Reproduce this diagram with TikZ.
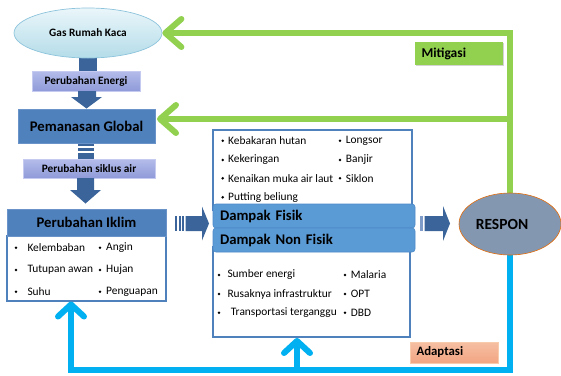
\documentclass[tikz,border=0pt]{standalone}
\usepackage{fontspec}
\setmainfont{Carlito}
\usetikzlibrary{arrows.meta,shapes.geometric,calc,shadows}
\definecolor{darkA}{HTML}{3B659A}
\definecolor{darkB}{HTML}{7F9CC8}
\definecolor{lavTop}{HTML}{B4BCEA}
\definecolor{lavBot}{HTML}{8F9BD9}
\definecolor{lavLine}{HTML}{C5CBF0}
\definecolor{steel}{HTML}{4F81BD}
\definecolor{steelLine}{HTML}{6A93C9}
\definecolor{dampakC}{HTML}{5B9BD5}
\definecolor{dampakLine}{HTML}{4A89C8}
\definecolor{boxLine}{HTML}{4F81BD}
\definecolor{greenC}{HTML}{92D050}
\definecolor{cyanC}{HTML}{00B0F0}
\definecolor{responC}{HTML}{8497B0}
\definecolor{responLine}{HTML}{E46C0A}
\definecolor{adapTop}{HTML}{F6BFA3}
\definecolor{adapBot}{HTML}{F2A582}
\definecolor{adapLine}{HTML}{F8CBAD}
\definecolor{ellTop}{HTML}{EAF6FA}
\definecolor{ellBot}{HTML}{B4DCE9}
\definecolor{ellLine}{HTML}{8DC4DC}
\begin{document}
\begin{tikzpicture}[x=1pt,y=-1pt,
  box/.style={rectangle, inner sep=0pt, align=center},
  lav/.style={box, top color=lavTop, bottom color=lavBot, draw=lavLine, line width=0.6pt,
    font=\fontsize{11.3}{13}\selectfont\bfseries},
  steelbox/.style={box, fill=steel, draw=steelLine, line width=0.6pt,
    font=\fontsize{14.7}{17}\selectfont\bfseries},
  listbox/.style={rectangle, draw=boxLine, line width=1.3pt, fill=white, inner sep=0pt},
  bar/.style={rectangle, rounded corners=3pt, fill=dampakC, draw=dampakLine, line width=0.6pt,
    font=\fontsize{14.7}{17}\selectfont\bfseries, inner xsep=7pt, inner ysep=0pt,
    text width=188pt, align=left, minimum height=24pt},
  item/.style={anchor=west, inner sep=0pt, font=\fontsize{11.4}{13}\selectfont},
  blk/.style={fill=darkA},
  gline/.style={draw=greenC, line width=6pt},
  bline/.style={draw=cyanC, line width=6pt},
  gtip/.style={-{Straight Barb[length=16pt,width=28pt,round]}},
  btip/.style={-{Straight Barb[length=12pt,width=26pt,round]}},
  tag/.style={rectangle, inner xsep=6.5pt, inner ysep=0pt, align=left,
    font=\fontsize{13.5}{15}\selectfont\bfseries,
    drop shadow={shadow xshift=1pt,shadow yshift=-1pt,opacity=0.35}},
]
\useasboundingbox (0,0) rectangle (561,375);

% ---------- anchors for the response loops ----------
\node[ellipse, minimum width=102pt, minimum height=62pt, inner sep=0pt] (respon) at (510,224) {};
\coordinate (pgg) at (157,119);
\coordinate (bcorner) at (71,369.5);
\coordinate (pitip) at (71,301.5);
\coordinate (bbr) at (297,369.5);
\coordinate (dtip) at (297,338);

% ---------- left column ----------
\fill[blk] (78.5,50) rectangle (96.5,71.5);
\node[ellipse, minimum width=148pt, minimum height=50pt, inner sep=0pt,
  top color=ellTop, bottom color=ellBot, draw=ellLine, line width=0.7pt,
  font=\fontsize{11.3}{13}\selectfont\bfseries] (gas) at (88,33) {Gas Rumah Kaca};

\node[lav, minimum width=108pt, minimum height=20pt] (pe) at (86,81) {Perubahan Energi};
\fill[blk] (78,91) -- (96,91) -- (96,97) -- (102,97) -- (86.5,108.5) -- (71,97) -- (78,97) -- cycle;

\node[steelbox, minimum width=137pt, minimum height=34pt] (pg) at (86.5,126) {Pemanasan Global};

\fill[blk] (78,143.5) rectangle (94,146);
\fill[blk] (78,148) rectangle (94,151);
\fill[blk] (78,153) rectangle (94,159);
\node[lav, minimum width=132pt, minimum height=19pt] (psa) at (89,168.5) {Perubahan siklus air};
\fill[blk] (77,178) -- (94,178) -- (94,190) -- (101,190) -- (85.5,203.5) -- (70,190) -- (77,190) -- cycle;

\node[listbox, minimum width=159pt, minimum height=65pt] (pib) at (86.5,268.5) {};
\node[steelbox, minimum width=159pt, minimum height=27pt] (pi) at (86.5,222.5) {Perubahan Iklim};
\foreach \t/\y [count=\i] in {Kelembaban/247.7, Tutupan awan/270, Suhu/291.7} {
  \fill (16,\y) circle (1.4pt);
  \node[item] (pil\i) at (27.3,\y) {\t};
}
\foreach \t/\y [count=\i] in {Angin/247.7, Hujan/270, Penguapan/291.7} {
  \fill (100,\y) circle (1.4pt);
  \node[item] (pir\i) at (106,\y) {\t};
}

% striped arrow to Dampak
\fill[blk] (175,216) rectangle (177,231);
\fill[blk] (178.5,216) rectangle (180.5,231);
\fill[blk] (182,216) rectangle (184,231);
\fill[blk] (185.5,216) -- (202,216) -- (202,206.5) -- (209,223.5) -- (202,240.5) -- (202,231) -- (185.5,231) -- cycle;

% ---------- middle column ----------
\node[listbox, minimum width=199pt, minimum height=80pt] (dft) at (312.5,170) {};
\node[listbox, minimum width=197pt, minimum height=90pt] (dfb) at (311.5,292) {};
\node[bar, minimum width=202pt] (dfis) at (314,216) {Dampak Fisik};
\node[bar, minimum width=202pt] (dnf) at (314,240) {Dampak Non Fisik};

\foreach \t/\y [count=\i] in {Kebakaran hutan/140.7, Kekeringan/160, Kenaikan muka air laut/178.3, Putting beliung/197.3} {
  \fill (222.7,\y) circle (1.4pt);
  \node[item] (dtl\i) at (228,\y) {\t};
}
\foreach \t/\y [count=\i] in {Longsor/140.7, Banjir/160, Siklon/178.3} {
  \fill (340,\y) circle (1.4pt);
  \node[item] (dtr\i) at (345.7,\y) {\t};
}
\foreach \t/\x/\y [count=\i] in {Sumber energi/227.3/275, Rusaknya infrastruktur/227.3/294, Transportasi terganggu/230.7/312.7} {
  \fill (219,\y) circle (1.4pt);
  \node[item] (dbl\i) at (\x,\y) {\t};
}
\foreach \t/\y [count=\i] in {Malaria/275, OPT/294, DBD/312.7} {
  \fill (345,\y) circle (1.4pt);
  \node[item] (dbr\i) at (350.7,\y) {\t};
}

% arrow to RESPON
\fill[darkB] (420,216) rectangle (423,231);
\fill[blk] (424.5,216) -- (443,216) -- (443,206) -- (450,223.5) -- (443,241) -- (443,231) -- (424.5,231) -- cycle;

% ---------- loops ----------
\draw[gline, gtip] (respon.north) |- (gas.east);
\draw[gline, gtip] (respon.north |- pgg) -- (pgg);
\draw[bline, btip] (respon.south) |- (bcorner) -- (pitip);
\draw[bline, btip] (bbr) -- (dtip);

\node[ellipse, minimum width=102pt, minimum height=62pt, inner sep=0pt,
  fill=responC, draw=responLine, line width=0.6pt] at (respon.center) {};
\node[font=\fontsize{15.5}{17}\selectfont\bfseries, inner sep=0pt] (respontxt) at (502,224.5) {RESPON};

\node[tag, fill=greenC, minimum width=88pt, minimum height=23pt, text width=75pt] (mit) at (459,53.5) {Mitigasi};
\node[tag, top color=adapTop, bottom color=adapBot, draw=adapLine, line width=0.6pt,
  minimum width=88pt, minimum height=21pt, text width=75pt,
  font=\fontsize{12.8}{15}\selectfont\bfseries] (adp) at (454,352.5) {Adaptasi};
\end{tikzpicture}
\end{document}
